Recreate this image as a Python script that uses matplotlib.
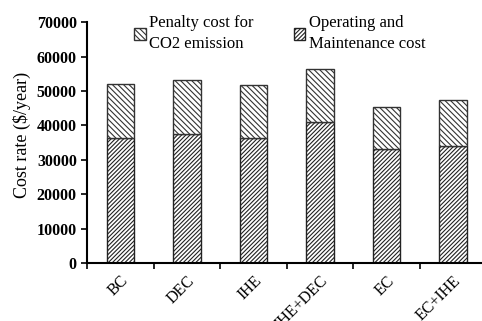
import numpy as np
import matplotlib.pyplot as plt

plt.rcParams['font.family'] = ['Liberation Serif', 'DejaVu Serif']
plt.rcParams['hatch.linewidth'] = 0.8

categories = ['BC', 'DEC', 'IHE', 'IHE+DEC', 'EC', 'EC+IHE']
operating = [36300, 37600, 36300, 40900, 33100, 34100]
total = [52000, 53200, 51700, 56400, 45400, 47500]
penalty = [t - o for t, o in zip(total, operating)]

x = np.arange(len(categories))

fig = plt.figure(figsize=(4.82, 3.21), dpi=100)
ax = fig.add_axes([0.181, 0.181, 0.828, 0.75])

ax.bar(x, operating, width=0.41, color='white', edgecolor='#222222',
       hatch='////////', linewidth=1.0, label='Operating and\nMaintenance cost')
ax.bar(x, penalty, width=0.41, bottom=operating, color='white', edgecolor='#333333',
       hatch='\\\\\\\\\\\\', linewidth=1.0, label='Penalty cost for\nCO2 emission')

ax.set_xlim(-0.5, 5.5)
ax.set_ylim(0, 70000)
ax.set_yticks(np.arange(0, 70001, 10000))
ax.tick_params(axis='y', labelsize=11.5, width=1.2, length=4, direction='out')
for lab in ax.get_yticklabels():
    lab.set_fontweight('bold')

ax.set_xticks(np.arange(-0.5, 5.6, 1))
ax.set_xticklabels([])
ax.tick_params(axis='x', which='major', width=1.2, length=4, direction='out')
ax.set_xticks(x, minor=True)
ax.set_xticklabels(categories, minor=True, rotation=45, ha='right',
                   rotation_mode='anchor', fontsize=11.5)
ax.tick_params(axis='x', which='minor', length=0, pad=7)

ax.set_ylabel('Cost rate ($/year)', fontsize=13)
ax.yaxis.set_label_coords(-0.14, 0.53)

for s in ['top', 'right']:
    ax.spines[s].set_visible(False)
for s in ['left', 'bottom']:
    ax.spines[s].set_linewidth(1.5)

h, l = ax.get_legend_handles_labels()
leg = ax.legend(h[::-1], l[::-1], ncol=2, frameon=False, fontsize=12,
                loc='upper left', bbox_to_anchor=(0.08, 1.09),
                handlelength=0.7, handleheight=0.7, handletextpad=0.2,
                columnspacing=2.4, labelspacing=0.1)
for t in leg.get_texts():
    t.set_linespacing(1.35)

fig.savefig('out.png', dpi=100)
